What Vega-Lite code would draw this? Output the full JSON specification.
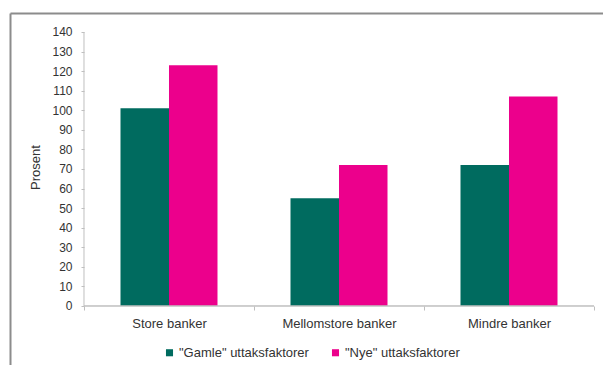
{
  "$schema": "https://vega.github.io/schema/vega-lite/v6.json",
  "width": 593,
  "height": 352,
  "padding": {"left": 10, "top": 13, "right": 0, "bottom": 0},
  "autosize": {"type": "none"},
  "background": "white",
  "config": {
    "view": {"stroke": null},
    "font": "Liberation Sans",
    "axis": {"labelFont": "Liberation Sans", "titleFont": "Liberation Sans", "labelColor": "#333333", "titleColor": "#333333", "titleFontWeight": "normal"},
    "legend": {"labelFont": "Liberation Sans", "labelColor": "#333333"}
  },
  "datasets": {
    "bars": [
      {"bank": "Store banker", "serie": "\"Gamle\" uttaksfaktorer", "verdi": 101},
      {"bank": "Store banker", "serie": "\"Nye\" uttaksfaktorer", "verdi": 123},
      {"bank": "Mellomstore banker", "serie": "\"Gamle\" uttaksfaktorer", "verdi": 55},
      {"bank": "Mellomstore banker", "serie": "\"Nye\" uttaksfaktorer", "verdi": 72},
      {"bank": "Mindre banker", "serie": "\"Gamle\" uttaksfaktorer", "verdi": 72},
      {"bank": "Mindre banker", "serie": "\"Nye\" uttaksfaktorer", "verdi": 107}
    ],
    "cats": [
      {"bank": "Store banker"},
      {"bank": "Mellomstore banker"},
      {"bank": "Mindre banker"}
    ]
  },
  "resolve": {"axis": {"x": "independent", "y": "independent"}},
  "layer": [
    {
      "data": {"name": "bars"},
      "mark": {"type": "bar"},
      "encoding": {
        "x": {
          "field": "bank",
          "type": "nominal",
          "sort": ["Store banker", "Mellomstore banker", "Mindre banker"],
          "scale": {"domain": ["Store banker", "Mellomstore banker", "Mindre banker"], "paddingInner": 0, "paddingOuter": 0.2441, "align": 0.8916},
          "axis": {
            "title": null,
            "orient": "bottom",
            "labelAngle": 0,
            "offset": -59,
            "domain": false,
            "ticks": true,
            "tickBand": "extent",
            "tickColor": "#bfbfbf",
            "tickSize": 4,
            "labelPadding": 7,
            "labelFontSize": 13
          }
        },
        "xOffset": {
          "field": "serie",
          "type": "nominal",
          "scale": {"paddingInner": 0, "paddingOuter": 0.7526}
        },
        "y": {
          "field": "verdi",
          "type": "quantitative",
          "scale": {"domain": [-30.15, 149.7], "nice": false, "zero": false},
          "axis": {
            "title": "Prosent",
            "orient": "left",
            "values": [0, 10, 20, 30, 40, 50, 60, 70, 80, 90, 100, 110, 120, 130, 140],
            "tickCount": 18,
            "labelOverlap": false,
            "labelSeparation": 0,
            "offset": -74,
            "domain": false,
            "grid": false,
            "tickColor": "#bfbfbf",
            "tickSize": 3,
            "labelPadding": 9,
            "labelFontSize": 12,
            "titleFontSize": 13,
            "titleY": 154,
            "titleX": -42
          }
        },
        "y2": {"datum": 0},
        "color": {
          "field": "serie",
          "type": "nominal",
          "scale": {"range": ["#006b5f", "#ec008c"]},
          "legend": {
            "title": null,
            "orient": "none",
            "direction": "horizontal",
            "legendX": 153,
            "legendY": 333,
            "symbolType": "square",
            "symbolSize": 50,
            "symbolStrokeWidth": 0,
            "labelFontSize": 13,
            "labelOffset": 3,
            "columnPadding": 20
          }
        }
      }
    },
    {
      "data": {"name": "cats"},
      "mark": {"type": "bar", "fill": null, "fillOpacity": 0, "stroke": "#bfbfbf", "strokeWidth": 1},
      "encoding": {
        "x": {
          "field": "bank",
          "type": "nominal",
          "sort": ["Store banker", "Mellomstore banker", "Mindre banker"],
          "axis": {
            "title": null,
            "orient": "top",
            "labels": false,
            "ticks": false,
            "domain": true,
            "domainColor": "#8c8c8c",
            "domainWidth": 2
          }
        },
        "y": {
          "datum": 0,
          "axis": {
            "title": null,
            "orient": "left",
            "labels": false,
            "ticks": false,
            "grid": false,
            "domain": true,
            "domainColor": "#8c8c8c",
            "domainWidth": 2
          }
        },
        "y2": {"datum": 0}
      }
    },
    {
      "data": {"values": [{"bank": "Store banker"}]},
      "mark": {"type": "rule", "stroke": "#bfbfbf", "strokeWidth": 1},
      "encoding": {
        "x": {"field": "bank", "type": "nominal", "sort": ["Store banker", "Mellomstore banker", "Mindre banker"], "bandPosition": 0, "axis": null},
        "y": {"datum": 0, "axis": null},
        "y2": {"datum": 140}
      }
    }
  ]
}
